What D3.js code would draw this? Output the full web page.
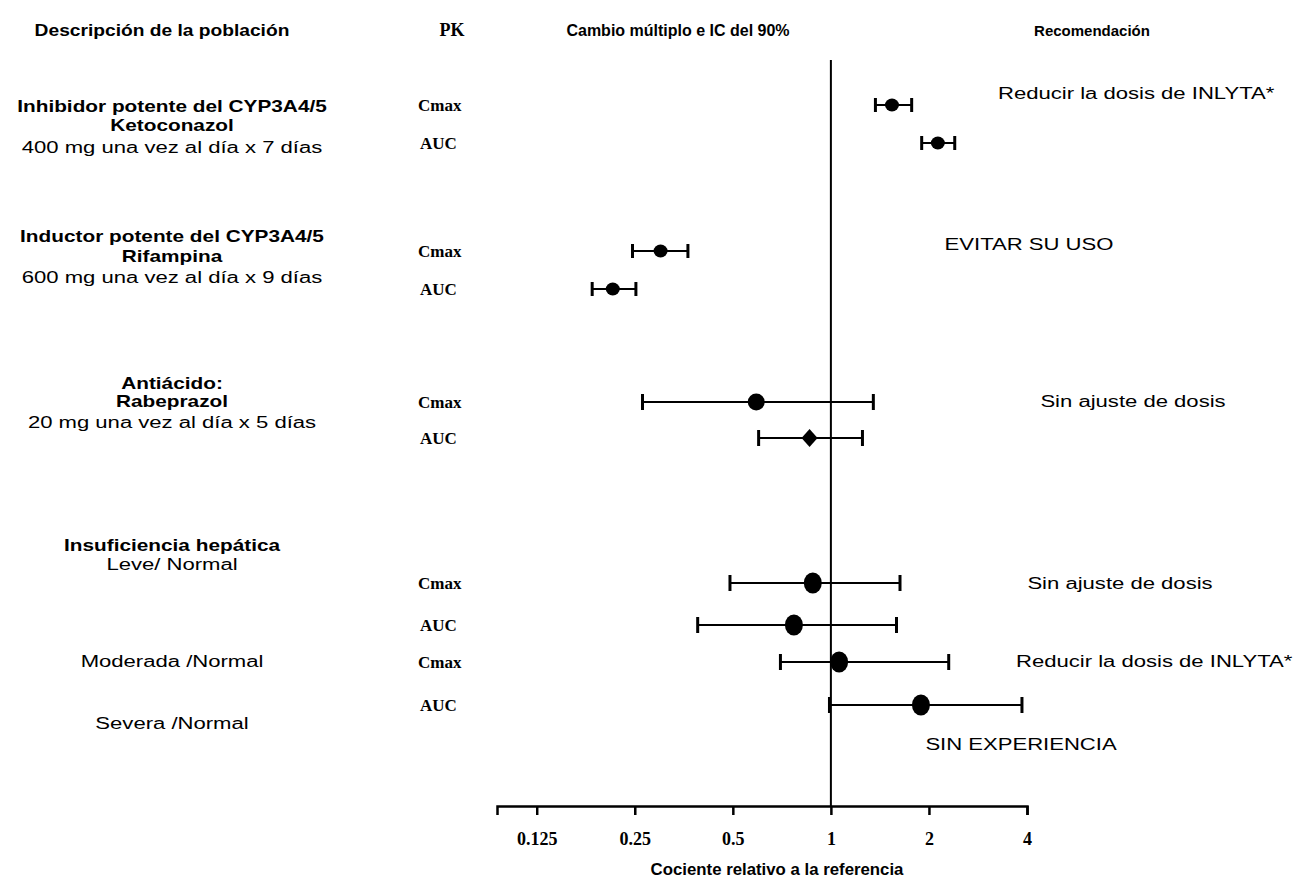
<!DOCTYPE html>
<html>
<head>
<meta charset="utf-8">
<script src="https://cdn.jsdelivr.net/npm/d3@7"></script>
<style>
  html, body { margin: 0; padding: 0; background: #fff; }
  svg { display: block; }
  .sans { font-family: "Liberation Sans", Arial, sans-serif; }
  .serif { font-family: "Liberation Serif", "Times New Roman", serif; }
</style>
</head>
<body>
<svg id="chart" width="1300" height="886"></svg>
<script>
// ---------------- DATA ----------------
const params    = ["Cmax", "AUC", "Cmax", "AUC", "Cmax", "AUC", "Cmax", "AUC", "Cmax", "AUC"];
const estimates = [1.54, 2.13, 0.30, 0.214, 0.59, 0.86, 0.88, 0.77, 1.06, 1.89];
const lowerCI   = [1.37, 1.90, 0.246, 0.185, 0.264, 0.60, 0.49, 0.39, 0.70, 0.99];
const upperCI   = [1.77, 2.40, 0.364, 0.252, 1.35, 1.25, 1.63, 1.59, 2.30, 3.86];
const markerKind = ["small", "small", "small", "small", "circle", "diamond", "large", "large", "large", "large"];

const tickValues = [0.125, 0.25, 0.5, 1, 2, 4];
const tickLabels = ["0.125", "0.25", "0.5", "1", "2", "4"];

const headers = ["Descripción de la población", "PK", "Cambio múltiplo e IC del 90%", "Recomendación"];
const axisTitle = "Cociente relativo a la referencia";

const populationLines = [
  ["Inhibidor potente del CYP3A4/5", true],
  ["Ketoconazol", true],
  ["400 mg una vez al día x 7 días", false],
  ["Inductor potente del CYP3A4/5", true],
  ["Rifampina", true],
  ["600 mg una vez al día x 9 días", false],
  ["Antiácido:", true],
  ["Rabeprazol", true],
  ["20 mg una vez al día x 5 días", false],
  ["Insuficiencia hepática", true],
  ["Leve/ Normal", false],
  ["Moderada /Normal", false],
  ["Severa /Normal", false]
];

const recommendations = [
  "Reducir la dosis de INLYTA*",
  "EVITAR SU USO",
  "Sin ajuste de dosis",
  "Sin ajuste de dosis",
  "Reducir la dosis de INLYTA*",
  "SIN EXPERIENCIA"
];

// ---------------- LAYOUT ----------------
const svg = d3.select("#chart");
const rowY = [105, 143, 251, 289, 402, 438, 583, 625, 662, 705];
const popY = [106, 125, 147, 236, 256, 277, 383, 401, 422, 545, 564, 661, 723];
const recPos = [[998, 93, "start"], [1029, 244, "middle"], [1133, 401, "middle"], [1120, 583, "middle"], [1016, 661, "start"], [1021, 744, "middle"]];

const axisY = 806;
const x = d3.scaleLog().base(2).domain([0.0944, 4]).range([497, 1027]);

// headers
const hdrX = [162, 452, 678, 1092];
const hdrSize = [16, 18, 16, 15];
const hdrStretch = [1.2, 1.0, 1.0, 1.0];
svg.selectAll("text.hdr").data(headers).join("text")
  .attr("class", (d, i) => i === 1 ? "hdr serif" : "hdr sans")
  .attr("transform", (d, i) => `translate(${hdrX[i]},36) scale(${hdrStretch[i]},1)`)
  .attr("text-anchor", "middle")
  .attr("font-size", (d, i) => hdrSize[i])
  .attr("font-weight", "bold")
  .text(d => d);

// population description
svg.selectAll("text.pop").data(populationLines).join("text")
  .attr("class", "pop sans")
  .attr("transform", (d, i) => `translate(172,${popY[i] + 6}) scale(${d[1] ? 1.3 : 1.38},1)`)
  .attr("text-anchor", "middle")
  .attr("font-size", 16)
  .attr("font-weight", d => d[1] ? "bold" : "normal")
  .text(d => d[0]);

// PK param labels
svg.selectAll("text.par").data(params).join("text")
  .attr("class", "par serif")
  .attr("x", (d, i) => d === "Cmax" ? 418 : 420).attr("y", (d, i) => rowY[i] + 6)
  .attr("font-size", 17)
  .attr("font-weight", "bold")
  .text(d => d);

// reference line at 1
svg.append("line")
  .attr("x1", x(1)).attr("x2", x(1))
  .attr("y1", 60).attr("y2", axisY)
  .attr("stroke", "#000").attr("stroke-width", 2);

// axis
const axis = d3.axisBottom(x).tickValues(tickValues)
  .tickFormat((d, i) => tickLabels[i]).tickSizeOuter(0).tickSize(9);
const gAxis = svg.append("g").attr("transform", `translate(0,${axisY})`).call(axis);
gAxis.select(".domain").attr("stroke-width", 2.5);
gAxis.selectAll(".tick line").attr("stroke-width", 2.5);
gAxis.selectAll(".tick text")
  .attr("font-family", "Liberation Serif, serif")
  .attr("font-size", 18).attr("font-weight", "bold")
  .attr("dy", "1.1em").attr("y", 19);

svg.append("text").attr("class", "sans")
  .attr("transform", "translate(777,875) scale(1.05,1)")
  .attr("text-anchor", "middle")
  .attr("font-size", 16).attr("font-weight", "bold")
  .text(axisTitle);

// error bars
const capH = d => (markerKind[d] === "small" ? 7 : 8);
const g = svg.append("g");
const idx = d3.range(params.length);
g.selectAll("line.ci").data(idx).join("line")
  .attr("x1", i => x(lowerCI[i])).attr("x2", i => x(upperCI[i]))
  .attr("y1", i => rowY[i]).attr("y2", i => rowY[i])
  .attr("stroke", "#000").attr("stroke-width", 2);
g.selectAll("line.capL").data(idx).join("line")
  .attr("x1", i => x(lowerCI[i])).attr("x2", i => x(lowerCI[i]))
  .attr("y1", i => rowY[i] - capH(i)).attr("y2", i => rowY[i] + capH(i))
  .attr("stroke", "#000").attr("stroke-width", 3);
g.selectAll("line.capR").data(idx).join("line")
  .attr("x1", i => x(upperCI[i])).attr("x2", i => x(upperCI[i]))
  .attr("y1", i => rowY[i] - capH(i)).attr("y2", i => rowY[i] + capH(i))
  .attr("stroke", "#000").attr("stroke-width", 3);

// markers
g.selectAll("ellipse.pt").data(idx.filter(i => markerKind[i] !== "diamond")).join("ellipse")
  .attr("cx", i => x(estimates[i])).attr("cy", i => rowY[i])
  .attr("rx", i => markerKind[i] === "small" ? 7 : (markerKind[i] === "circle" ? 8.5 : 9))
  .attr("ry", i => markerKind[i] === "small" ? 6.5 : (markerKind[i] === "circle" ? 8.5 : 10.5))
  .attr("fill", "#000");
g.selectAll("path.dia").data(idx.filter(i => markerKind[i] === "diamond")).join("path")
  .attr("transform", i => `translate(${x(estimates[i])},${rowY[i]})`)
  .attr("d", "M0,-9 L8,0 L0,9 L-8,0 Z")
  .attr("fill", "#000");

// recommendations
svg.selectAll("text.rec").data(recommendations).join("text")
  .attr("class", "rec sans")
  .attr("transform", (d, i) => `translate(${recPos[i][0]},${recPos[i][1] + 6}) scale(1.38,1)`)
  .attr("text-anchor", (d, i) => recPos[i][2])
  .attr("font-size", 16)
  .text(d => d);
</script>
</body>
</html>
